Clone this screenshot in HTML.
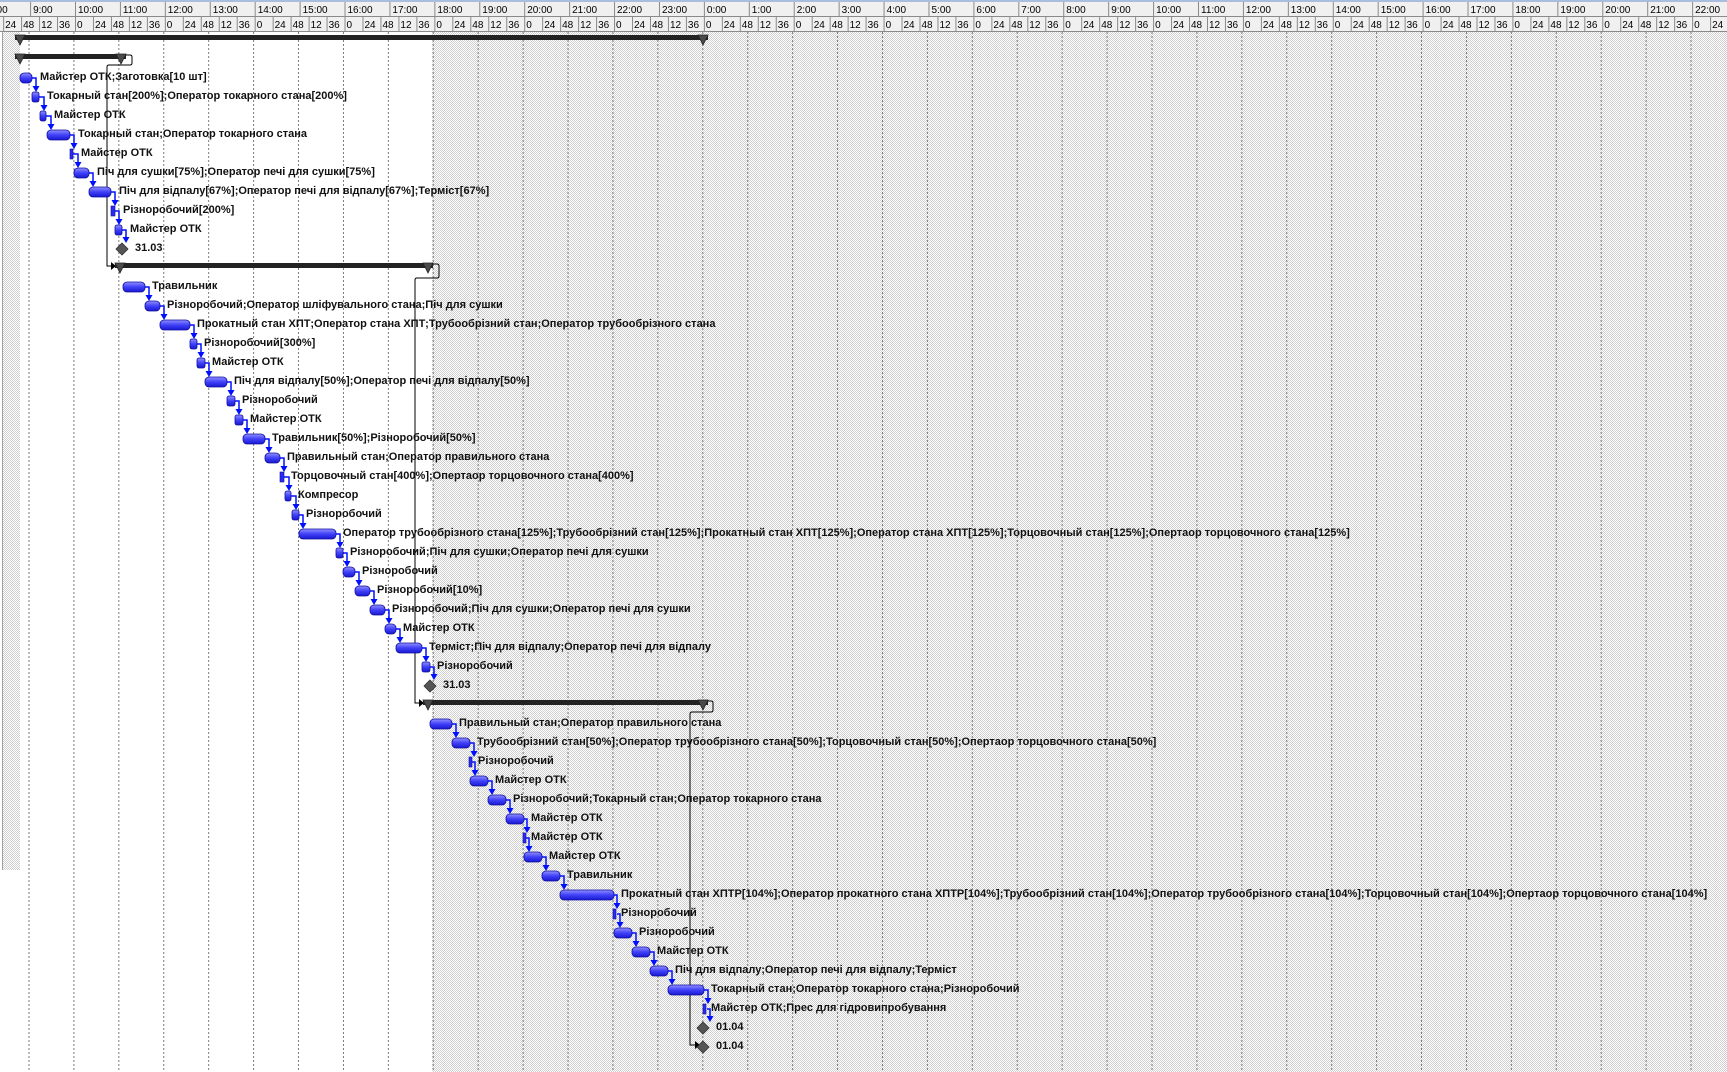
<!DOCTYPE html>
<html><head><meta charset="utf-8"><style>
html,body{margin:0;padding:0;background:#fff;}
svg{display:block;}
.h{font-family:"Liberation Sans",sans-serif;font-size:10px;fill:#000;}
.l{font-family:"Liberation Sans",sans-serif;font-size:11px;font-weight:bold;fill:#111;}
.c{fill:none;stroke:#0010ff;stroke-width:1.5;}
.a{fill:#0010ff;}
.k{fill:none;stroke:#000;stroke-width:1;}
.s{fill:#222;}
.t{fill:#4a4a4a;stroke:#222;stroke-width:0.8;}
.d{fill:#555;stroke:#333;stroke-width:0.8;}
.b{fill:url(#bg);stroke:#1010a0;stroke-width:0.8;}
.n{fill:#2a2af0;stroke:#1010a0;stroke-width:0.6;}
</style></head><body>
<svg width="1727" height="1072" viewBox="0 0 1727 1072" xmlns="http://www.w3.org/2000/svg">
<defs>
<pattern id="dot" width="2" height="2" patternUnits="userSpaceOnUse"><rect width="2" height="2" fill="#fff"/><rect width="1" height="1" fill="#cfcfcf"/><rect x="1" y="1" width="1" height="1" fill="#cfcfcf"/></pattern>
<pattern id="hl" x="28.5" y="0" width="44.92" height="4" patternUnits="userSpaceOnUse"><rect x="0" y="0" width="1" height="2" fill="#7a7a7a"/></pattern>
<pattern id="hd1" x="75" y="0" width="44.92" height="20" patternUnits="userSpaceOnUse"><rect x="0" y="0" width="1" height="20" fill="#8a8a8a"/></pattern>
<pattern id="hd2" x="75" y="0" width="17.968" height="20" patternUnits="userSpaceOnUse"><rect x="0" y="0" width="1" height="20" fill="#8a8a8a"/></pattern>
<linearGradient id="bg" x1="0" y1="0" x2="0" y2="1"><stop offset="0" stop-color="#9090ff"/><stop offset="0.5" stop-color="#4040f8"/><stop offset="1" stop-color="#1818d0"/></linearGradient>
</defs>
<rect x="0" y="32" width="1727" height="1040" fill="#fff"/>
<rect x="432" y="32" width="1295" height="1040" fill="url(#dot)"/>
<rect x="3" y="32" width="17" height="838" fill="url(#dot)"/>
<rect x="2" y="32" width="1" height="838" fill="#a0a0a0"/>
<rect x="0" y="32" width="1727" height="1040" fill="url(#hl)"/>
<rect x="0" y="0" width="1727" height="2" fill="#a8bedc"/>
<rect x="0" y="2" width="1727" height="30" fill="#f0f0f0"/>
<rect x="0" y="2" width="1727" height="14" fill="url(#hd1)"/>
<rect x="0" y="17" width="1727" height="14" fill="url(#hd2)"/>
<rect x="0" y="16" width="1727" height="1" fill="#8a8a8a"/>
<rect x="0" y="31" width="1727" height="1" fill="#8a8a8a"/>
<g class="h">
<text x="-11.8" y="13">8:00</text><text x="33.1" y="13">9:00</text><text x="78" y="13">10:00</text><text x="122.9" y="13">11:00</text><text x="167.8" y="13">12:00</text><text x="212.8" y="13">13:00</text><text x="257.7" y="13">14:00</text><text x="302.6" y="13">15:00</text><text x="347.5" y="13">16:00</text><text x="392.4" y="13">17:00</text><text x="437.4" y="13">18:00</text><text x="482.3" y="13">19:00</text><text x="527.2" y="13">20:00</text><text x="572.1" y="13">21:00</text><text x="617" y="13">22:00</text><text x="662" y="13">23:00</text><text x="706.9" y="13">0:00</text><text x="751.8" y="13">1:00</text><text x="796.7" y="13">2:00</text><text x="841.6" y="13">3:00</text><text x="886.6" y="13">4:00</text><text x="931.5" y="13">5:00</text><text x="976.4" y="13">6:00</text><text x="1021.3" y="13">7:00</text><text x="1066.2" y="13">8:00</text><text x="1111.2" y="13">9:00</text><text x="1156.1" y="13">10:00</text><text x="1201" y="13">11:00</text><text x="1245.9" y="13">12:00</text><text x="1290.8" y="13">13:00</text><text x="1335.8" y="13">14:00</text><text x="1380.7" y="13">15:00</text><text x="1425.6" y="13">16:00</text><text x="1470.5" y="13">17:00</text><text x="1515.4" y="13">18:00</text><text x="1560.4" y="13">19:00</text><text x="1605.3" y="13">20:00</text><text x="1650.2" y="13">21:00</text><text x="1695.1" y="13">22:00</text>
<text x="5.1" y="28">24</text><text x="23.1" y="28">48</text><text x="41.1" y="28">12</text><text x="59" y="28">36</text><text x="77" y="28">0</text><text x="95" y="28">24</text><text x="112.9" y="28">48</text><text x="130.9" y="28">12</text><text x="148.9" y="28">36</text><text x="166.8" y="28">0</text><text x="184.8" y="28">24</text><text x="202.8" y="28">48</text><text x="220.7" y="28">12</text><text x="238.7" y="28">36</text><text x="256.7" y="28">0</text><text x="274.6" y="28">24</text><text x="292.6" y="28">48</text><text x="310.6" y="28">12</text><text x="328.6" y="28">36</text><text x="346.5" y="28">0</text><text x="364.5" y="28">24</text><text x="382.5" y="28">48</text><text x="400.4" y="28">12</text><text x="418.4" y="28">36</text><text x="436.4" y="28">0</text><text x="454.3" y="28">24</text><text x="472.3" y="28">48</text><text x="490.3" y="28">12</text><text x="508.2" y="28">36</text><text x="526.2" y="28">0</text><text x="544.2" y="28">24</text><text x="562.1" y="28">48</text><text x="580.1" y="28">12</text><text x="598.1" y="28">36</text><text x="616" y="28">0</text><text x="634" y="28">24</text><text x="652" y="28">48</text><text x="670" y="28">12</text><text x="687.9" y="28">36</text><text x="705.9" y="28">0</text><text x="723.8" y="28">24</text><text x="741.8" y="28">48</text><text x="759.8" y="28">12</text><text x="777.8" y="28">36</text><text x="795.7" y="28">0</text><text x="813.7" y="28">24</text><text x="831.7" y="28">48</text><text x="849.6" y="28">12</text><text x="867.6" y="28">36</text><text x="885.6" y="28">0</text><text x="903.5" y="28">24</text><text x="921.5" y="28">48</text><text x="939.5" y="28">12</text><text x="957.4" y="28">36</text><text x="975.4" y="28">0</text><text x="993.4" y="28">24</text><text x="1011.3" y="28">48</text><text x="1029.3" y="28">12</text><text x="1047.3" y="28">36</text><text x="1065.2" y="28">0</text><text x="1083.2" y="28">24</text><text x="1101.2" y="28">48</text><text x="1119.2" y="28">12</text><text x="1137.1" y="28">36</text><text x="1155.1" y="28">0</text><text x="1173" y="28">24</text><text x="1191" y="28">48</text><text x="1209" y="28">12</text><text x="1227" y="28">36</text><text x="1244.9" y="28">0</text><text x="1262.9" y="28">24</text><text x="1280.8" y="28">48</text><text x="1298.8" y="28">12</text><text x="1316.8" y="28">36</text><text x="1334.8" y="28">0</text><text x="1352.7" y="28">24</text><text x="1370.7" y="28">48</text><text x="1388.7" y="28">12</text><text x="1406.6" y="28">36</text><text x="1424.6" y="28">0</text><text x="1442.6" y="28">24</text><text x="1460.5" y="28">48</text><text x="1478.5" y="28">12</text><text x="1496.5" y="28">36</text><text x="1514.4" y="28">0</text><text x="1532.4" y="28">24</text><text x="1550.4" y="28">48</text><text x="1568.3" y="28">12</text><text x="1586.3" y="28">36</text><text x="1604.3" y="28">0</text><text x="1622.2" y="28">24</text><text x="1640.2" y="28">48</text><text x="1658.2" y="28">12</text><text x="1676.1" y="28">36</text><text x="1694.1" y="28">0</text><text x="1712.1" y="28">24</text>
</g>

<path class="k" d="M126,55 H130 Q132,55 132,57 V63 Q132,65 130,65 H109 Q107,65 107,67 V266 H111"/>
<polygon points="111,262 111,270 116,266" fill="#000"/>
<path class="k" d="M433,264 H437 Q439,264 439,266 V276 Q439,278 437,278 H417 Q415,278 415,280 V703 H419"/>
<polygon points="419,699 419,707 424,703" fill="#000"/>
<path class="k" d="M708,701 H711 Q713,701 713,703 V710 Q713,712 711,712 H692 Q690,712 690,714 V1045 H695"/>
<polygon points="695,1041 695,1049 700,1045" fill="#000"/>

<rect class="s" x="15" y="35" width="693" height="5"/><polygon class="t" points="15,35 25,35 20,45"/><polygon class="t" points="698,35 708,35 703,45"/>
<rect class="s" x="15" y="54" width="111" height="5"/><polygon class="t" points="15,54 25,54 20,64"/><polygon class="t" points="116,54 126,54 121,64"/>
<rect class="s" x="115" y="263" width="318" height="5"/><polygon class="t" points="115,263 125,263 120,273"/><polygon class="t" points="423,263 433,263 428,273"/>
<rect class="s" x="423" y="700" width="285" height="5"/><polygon class="t" points="423,700 433,700 428,710"/><polygon class="t" points="698,700 708,700 703,710"/>

<g>
<path class="c" d="M32,78H36V86"/><polygon class="a" points="32.5,86 39.5,86 36,92"/>
<path class="c" d="M39,97H44V105"/><polygon class="a" points="40.5,105 47.5,105 44,111"/>
<path class="c" d="M46,116H51V124"/><polygon class="a" points="47.5,124 54.5,124 51,130"/>
<path class="c" d="M70,135H74V143"/><polygon class="a" points="70.5,143 77.5,143 74,149"/>
<path class="c" d="M73,154H78V162"/><polygon class="a" points="74.5,162 81.5,162 78,168"/>
<path class="c" d="M89,173H93V181"/><polygon class="a" points="89.5,181 96.5,181 93,187"/>
<path class="c" d="M111,192H115V200"/><polygon class="a" points="111.5,200 118.5,200 115,206"/>
<path class="c" d="M115,211H119V219"/><polygon class="a" points="115.5,219 122.5,219 119,225"/>
<path class="c" d="M122,230H126V237"/><polygon class="a" points="122.5,237 129.5,237 126,243"/>

<path class="c" d="M145,287H149V295"/><polygon class="a" points="145.5,295 152.5,295 149,301"/>
<path class="c" d="M160,306H164V314"/><polygon class="a" points="160.5,314 167.5,314 164,320"/>
<path class="c" d="M190,325H194V333"/><polygon class="a" points="190.5,333 197.5,333 194,339"/>
<path class="c" d="M197,344H201V352"/><polygon class="a" points="197.5,352 204.5,352 201,358"/>
<path class="c" d="M205,363H209V371"/><polygon class="a" points="205.5,371 212.5,371 209,377"/>
<path class="c" d="M227,382H231V390"/><polygon class="a" points="227.5,390 234.5,390 231,396"/>
<path class="c" d="M235,401H239V409"/><polygon class="a" points="235.5,409 242.5,409 239,415"/>
<path class="c" d="M243,420H247V428"/><polygon class="a" points="243.5,428 250.5,428 247,434"/>
<path class="c" d="M265,439H269V447"/><polygon class="a" points="265.5,447 272.5,447 269,453"/>
<path class="c" d="M280,458H284V466"/><polygon class="a" points="280.5,466 287.5,466 284,472"/>
<path class="c" d="M284,477H289V485"/><polygon class="a" points="285.5,485 292.5,485 289,491"/>
<path class="c" d="M291,496H296V504"/><polygon class="a" points="292.5,504 299.5,504 296,510"/>
<path class="c" d="M299,515H303V523"/><polygon class="a" points="299.5,523 306.5,523 303,529"/>
<path class="c" d="M336,534H340V542"/><polygon class="a" points="336.5,542 343.5,542 340,548"/>
<path class="c" d="M343,553H347V561"/><polygon class="a" points="343.5,561 350.5,561 347,567"/>
<path class="c" d="M355,572H359V580"/><polygon class="a" points="355.5,580 362.5,580 359,586"/>
<path class="c" d="M370,591H374V599"/><polygon class="a" points="370.5,599 377.5,599 374,605"/>
<path class="c" d="M385,610H389V618"/><polygon class="a" points="385.5,618 392.5,618 389,624"/>
<path class="c" d="M396,629H400V637"/><polygon class="a" points="396.5,637 403.5,637 400,643"/>
<path class="c" d="M422,648H426V656"/><polygon class="a" points="422.5,656 429.5,656 426,662"/>
<path class="c" d="M430,667H434V674"/><polygon class="a" points="430.5,674 437.5,674 434,680"/>

<path class="c" d="M452,724H456V732"/><polygon class="a" points="452.5,732 459.5,732 456,738"/>
<path class="c" d="M470,743H474V751"/><polygon class="a" points="470.5,751 477.5,751 474,757"/>
<path class="c" d="M472,762H475V770"/><polygon class="a" points="471.5,770 478.5,770 475,776"/>
<path class="c" d="M488,781H492V789"/><polygon class="a" points="488.5,789 495.5,789 492,795"/>
<path class="c" d="M506,800H510V808"/><polygon class="a" points="506.5,808 513.5,808 510,814"/>
<path class="c" d="M524,819H527V827"/><polygon class="a" points="523.5,827 530.5,827 527,833"/>
<path class="c" d="M526,838H529V846"/><polygon class="a" points="525.5,846 532.5,846 529,852"/>
<path class="c" d="M542,857H546V865"/><polygon class="a" points="542.5,865 549.5,865 546,871"/>
<path class="c" d="M560,876H564V884"/><polygon class="a" points="560.5,884 567.5,884 564,890"/>
<path class="c" d="M614,895H617V903"/><polygon class="a" points="613.5,903 620.5,903 617,909"/>
<path class="c" d="M617,914H620V922"/><polygon class="a" points="616.5,922 623.5,922 620,928"/>
<path class="c" d="M632,933H636V941"/><polygon class="a" points="632.5,941 639.5,941 636,947"/>
<path class="c" d="M650,952H654V960"/><polygon class="a" points="650.5,960 657.5,960 654,966"/>
<path class="c" d="M668,971H672V979"/><polygon class="a" points="668.5,979 675.5,979 672,985"/>
<path class="c" d="M704,990H708V998"/><polygon class="a" points="704.5,998 711.5,998 708,1004"/>
<path class="c" d="M707,1009H710V1016"/><polygon class="a" points="706.5,1016 713.5,1016 710,1022"/>
</g>

<g>
<rect class="b" x="20" y="73" width="12" height="10" rx="4"/>
<rect class="b" x="32" y="92" width="7" height="10" rx="2"/>
<rect class="b" x="40" y="111" width="6" height="10" rx="2"/>
<rect class="b" x="47" y="130" width="23" height="10" rx="4"/>
<rect class="n" x="70" y="149" width="3" height="10"/>
<rect class="b" x="74" y="168" width="15" height="10" rx="4"/>
<rect class="b" x="89" y="187" width="22" height="10" rx="4"/>
<rect class="n" x="111" y="206" width="4" height="10"/>
<rect class="b" x="115" y="225" width="7" height="10" rx="2"/>
<polygon class="d" points="122,243 128,249 122,255 116,249"/>

<rect class="b" x="123" y="282" width="22" height="10" rx="4"/>
<rect class="b" x="145" y="301" width="15" height="10" rx="4"/>
<rect class="b" x="160" y="320" width="30" height="10" rx="4"/>
<rect class="b" x="190" y="339" width="7" height="10" rx="2"/>
<rect class="b" x="197" y="358" width="8" height="10" rx="2"/>
<rect class="b" x="205" y="377" width="22" height="10" rx="4"/>
<rect class="b" x="227" y="396" width="8" height="10" rx="2"/>
<rect class="b" x="235" y="415" width="8" height="10" rx="2"/>
<rect class="b" x="243" y="434" width="22" height="10" rx="4"/>
<rect class="b" x="265" y="453" width="15" height="10" rx="4"/>
<rect class="n" x="280" y="472" width="4" height="10"/>
<rect class="b" x="285" y="491" width="6" height="10" rx="2"/>
<rect class="b" x="292" y="510" width="7" height="10" rx="2"/>
<rect class="b" x="299" y="529" width="37" height="10" rx="4"/>
<rect class="b" x="336" y="548" width="7" height="10" rx="2"/>
<rect class="b" x="343" y="567" width="12" height="10" rx="4"/>
<rect class="b" x="355" y="586" width="15" height="10" rx="4"/>
<rect class="b" x="370" y="605" width="15" height="10" rx="4"/>
<rect class="b" x="385" y="624" width="11" height="10" rx="4"/>
<rect class="b" x="396" y="643" width="26" height="10" rx="4"/>
<rect class="b" x="422" y="662" width="8" height="10" rx="2"/>
<polygon class="d" points="430,680 436,686 430,692 424,686"/>

<rect class="b" x="430" y="719" width="22" height="10" rx="4"/>
<rect class="b" x="452" y="738" width="18" height="10" rx="4"/>
<rect class="n" x="469" y="757" width="3" height="10"/>
<rect class="b" x="470" y="776" width="18" height="10" rx="4"/>
<rect class="b" x="488" y="795" width="18" height="10" rx="4"/>
<rect class="b" x="506" y="814" width="18" height="10" rx="4"/>
<rect class="n" x="523" y="833" width="3" height="10"/>
<rect class="b" x="524" y="852" width="18" height="10" rx="4"/>
<rect class="b" x="542" y="871" width="18" height="10" rx="4"/>
<rect class="b" x="560" y="890" width="54" height="10" rx="4"/>
<rect class="n" x="613" y="909" width="3" height="10"/>
<rect class="b" x="614" y="928" width="18" height="10" rx="4"/>
<rect class="b" x="632" y="947" width="18" height="10" rx="4"/>
<rect class="b" x="650" y="966" width="18" height="10" rx="4"/>
<rect class="b" x="668" y="985" width="36" height="10" rx="4"/>
<rect class="n" x="703" y="1004" width="3" height="10"/>
<polygon class="d" points="703,1022 709,1028 703,1034 697,1028"/>
<polygon class="d" points="703,1041 709,1047 703,1053 697,1047"/>
</g>

<g class="l">
<text x="40" y="80">Майстер ОТК;Заготовка[10 шт]</text>
<text x="47" y="99">Токарный стан[200%];Оператор токарного стана[200%]</text>
<text x="54" y="118">Майстер ОТК</text>
<text x="78" y="137">Токарный стан;Оператор токарного стана</text>
<text x="81" y="156">Майстер ОТК</text>
<text x="97" y="175">Піч для сушки[75%];Оператор печі для сушки[75%]</text>
<text x="119" y="194">Піч для відпалу[67%];Оператор печі для відпалу[67%];Терміст[67%]</text>
<text x="123" y="213">Різноробочий[200%]</text>
<text x="130" y="232">Майстер ОТК</text>
<text x="135" y="251">31.03</text>

<text x="152" y="289">Травильник</text>
<text x="167" y="308">Різноробочий;Оператор шліфувального стана;Піч для сушки</text>
<text x="197" y="327">Прокатный стан ХПТ;Оператор стана ХПТ;Трубообрізний стан;Оператор трубообрізного стана</text>
<text x="204" y="346">Різноробочий[300%]</text>
<text x="212" y="365">Майстер ОТК</text>
<text x="234" y="384">Піч для відпалу[50%];Оператор печі для відпалу[50%]</text>
<text x="242" y="403">Різноробочий</text>
<text x="250" y="422">Майстер ОТК</text>
<text x="272" y="441">Травильник[50%];Різноробочий[50%]</text>
<text x="287" y="460">Правильный стан;Оператор правильного стана</text>
<text x="291" y="479">Торцовочный стан[400%];Опертаор торцовочного стана[400%]</text>
<text x="298" y="498">Компресор</text>
<text x="306" y="517">Різноробочий</text>
<text x="343" y="536">Оператор трубообрізного стана[125%];Трубообрізний стан[125%];Прокатный стан ХПТ[125%];Оператор стана ХПТ[125%];Торцовочный стан[125%];Опертаор торцовочного стана[125%]</text>
<text x="350" y="555">Різноробочий;Піч для сушки;Оператор печі для сушки</text>
<text x="362" y="574">Різноробочий</text>
<text x="377" y="593">Різноробочий[10%]</text>
<text x="392" y="612">Різноробочий;Піч для сушки;Оператор печі для сушки</text>
<text x="403" y="631">Майстер ОТК</text>
<text x="429" y="650">Терміст;Піч для відпалу;Оператор печі для відпалу</text>
<text x="437" y="669">Різноробочий</text>
<text x="443" y="688">31.03</text>

<text x="459" y="726">Правильный стан;Оператор правильного стана</text>
<text x="477" y="745">Трубообрізний стан[50%];Оператор трубообрізного стана[50%];Торцовочный стан[50%];Опертаор торцовочного стана[50%]</text>
<text x="478" y="764">Різноробочий</text>
<text x="495" y="783">Майстер ОТК</text>
<text x="513" y="802">Різноробочий;Токарный стан;Оператор токарного стана</text>
<text x="531" y="821">Майстер ОТК</text>
<text x="531" y="840">Майстер ОТК</text>
<text x="549" y="859">Майстер ОТК</text>
<text x="567" y="878">Травильник</text>
<text x="621" y="897">Прокатный стан ХПТР[104%];Оператор прокатного стана ХПТР[104%];Трубообрізний стан[104%];Оператор трубообрізного стана[104%];Торцовочный стан[104%];Опертаор торцовочного стана[104%]</text>
<text x="621" y="916">Різноробочий</text>
<text x="639" y="935">Різноробочий</text>
<text x="657" y="954">Майстер ОТК</text>
<text x="675" y="973">Піч для відпалу;Оператор печі для відпалу;Терміст</text>
<text x="711" y="992">Токарный стан;Оператор токарного стана;Різноробочий</text>
<text x="711" y="1011">Майстер ОТК;Прес для гідровипробування</text>
<text x="716" y="1030">01.04</text>
<text x="716" y="1049">01.04</text>
</g>
</svg>
</body></html>
